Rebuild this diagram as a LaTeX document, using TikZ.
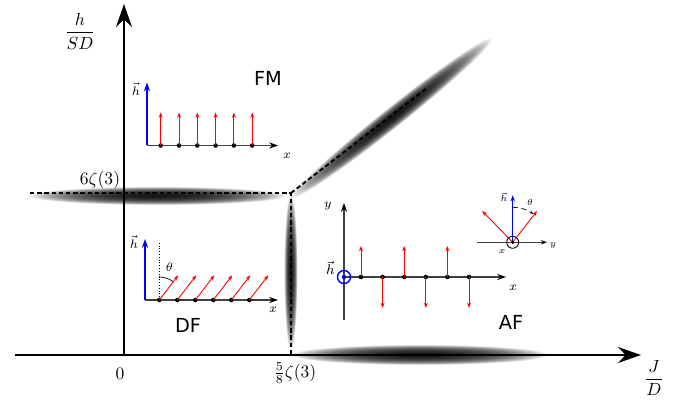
\documentclass[tikz,border=0pt]{standalone}
\usepackage{amsmath,amssymb}
\usepackage{fontspec}
\newfontfamily\phasefont{DejaVu Sans}
\usetikzlibrary{arrows.meta,positioning,calc}

\tikzset{
  mainaxis/.style={line width=1.6pt, -{Stealth[length=13pt,width=9pt]}},
  boundary/.style={line width=1.1pt, dash pattern=on 2.5pt off 1.6pt},
  inaxis/.style={black!75, line width=0.8pt, -{Stealth[length=5pt,width=3.5pt,black]}},
  hfield/.style={blue, line width=0.8pt, -{Stealth[length=5pt,width=3.5pt]}},
  spin/.style={red, line width=0.5pt, -{Stealth[length=3pt,width=2.2pt]}},
  site/.style={circle, fill=black, inner sep=0pt, minimum size=2.6pt},
  phase/.style={font=\phasefont\fontsize{11}{13}\selectfont},
  tinylbl/.style={font=\scriptsize, inner sep=1pt},
}

% soft shadow along a phase boundary
\newcommand{\glowat}[4]{%
  \begin{scope}[shift={#1}, rotate=#2]
    \foreach \k in {1,...,50}
      \fill[black, opacity=0.05] (0,0) ellipse ({#3*\k/50} and {#4*\k/50});
  \end{scope}}

\begin{document}
\begin{tikzpicture}[x=0.02cm, y=-0.02cm]
    \useasboundingbox (0,0) rectangle (689,401);

    % shadows of the transition lines
    \glowat{(158,196)}{0}{128}{9}
    \glowat{(291,272)}{0}{6.5}{78}
    \glowat{(392,118)}{38.5}{128}{10}
    \glowat{(420,355)}{0}{128}{10}

    % axes
    \coordinate (O) at (124,355);
    \coordinate (xstart) at (15,355);
    \coordinate (xend) at (641,355);
    \coordinate (yend) at (124,4);
    \draw[mainaxis] (xstart) -- (xend);
    \draw[mainaxis] (O) -- (yend);

    \node (hlbl) at (80,31) {$\dfrac{h}{SD}$};
    \node (jlbl) at (654,378) {$\dfrac{J}{D}$};
    \node (zero) at (120,374) {$0$};
    \node (hc) at (100,180) {$6\zeta(3)$};
    \node (jc) at (295,373) {$\frac{5}{8}\zeta(3)$};

    % phase boundaries
    \coordinate (lft) at (30,193);
    \coordinate (tri) at (291,193);
    \coordinate (bot) at (291,355);
    \coordinate (diag) at (427,88);
    \draw[boundary] (lft) -- (tri) -- (bot);
    \draw[boundary] (tri) -- (diag);

    % phase names
    \node[phase] (fm) at (268,78) {FM};
    \node[phase] (df) at (188,325) {DF};
    \node[phase] (af) at (511,322) {AF};

    % FM inset
    \coordinate (fmO) at (147,145.5);
    \draw[inaxis] (fmO) -- ++(131,0) coordinate (fmx);
    \draw[hfield] (fmO) -- ++(0,-63) coordinate (fmh);
    \node[tinylbl] at (287,156) {$x$};
    \node[tinylbl] at (136,89) {$\vec h$};
    \foreach \i in {0,...,5} {
        \node[site] (fm\i) at ({160.7+18.3*\i},145.5) {};
        \draw[spin] (fm\i.center) -- ++(0,-33);
    }

    % DF inset
    \coordinate (dfO) at (145,300);
    \draw[inaxis] (dfO) -- ++(133,0) coordinate (dfx);
    \draw[hfield] (dfO) -- ++(0,-61) coordinate (dfh);
    \node[tinylbl] at (273,310) {$x$};
    \node[tinylbl] at (134,242) {$\vec h$};
    \draw[densely dotted, line width=0.6pt] (159.3,300) -- (159.3,243);
    \draw[line width=0.4pt] (159.3,277) arc[start angle=-90, end angle=-53, radius=23];
    \node[tinylbl] at (169.5,267) {$\theta$};
    \foreach \i in {0,...,5} {
        \node[site] (df\i) at ({159.3+18*\i},300) {};
        \draw[spin] (df\i.center) -- ++(19,-24.7);
    }

    % AF inset
    \coordinate (afO) at (344,277);
    \draw[inaxis] (344,320) -- (344,203);
    \draw[inaxis] (afO) -- (506,277);
    \node[tinylbl] at (328,206) {$y$};
    \node[tinylbl] at (513,288) {$x$};
    \node[font=\footnotesize, inner sep=0pt, anchor=east] at (335,268) {$\vec h$};
    \draw[blue, line width=0.8pt] (afO) circle (6.5);
    \fill[blue] (afO) circle (2.2);
    \foreach \i in {0,...,5} {
        \pgfmathsetmacro\dy{mod(\i,2)==0 ? -31 : 31}
        \node[site] (af\i) at ({361+21.6*\i},277) {};
        \draw[spin] (af\i.center) -- ++(0,\dy);
    }

    % spin cone of the AF phase
    \coordinate (cc) at (512.7,242.3);
    \draw[black!75, line width=0.6pt, -{Stealth[length=3.5pt,width=2.5pt,black]}] (477,242.3) -- (547,242.3);
    \draw[spin] (cc) -- ++(-30.5,-31.3);
    \draw[spin] (cc) -- ++(24.3,-31.3);
    \draw[blue, line width=0.6pt, -{Stealth[length=3.5pt,width=2.5pt]}] (cc) -- ++(0,-47);
    \draw[line width=0.5pt] (cc) circle (6);
    \fill (cc) circle (1.8);
    \draw[densely dashed, line width=0.4pt, -{Stealth[length=2pt]}] (512.7,207.3) arc[start angle=-90, end angle=-54, radius=35];
    \node[font=\tiny, inner sep=0.5pt] at (504,197) {$\vec h$};
    \node[font=\tiny, inner sep=0.5pt] at (530,202) {$\theta$};
    \node[font=\tiny, inner sep=0.5pt] at (553,245) {$y$};
    \node[font=\tiny, inner sep=0.5pt] at (502,252) {$x$};
\end{tikzpicture}
\end{document}
